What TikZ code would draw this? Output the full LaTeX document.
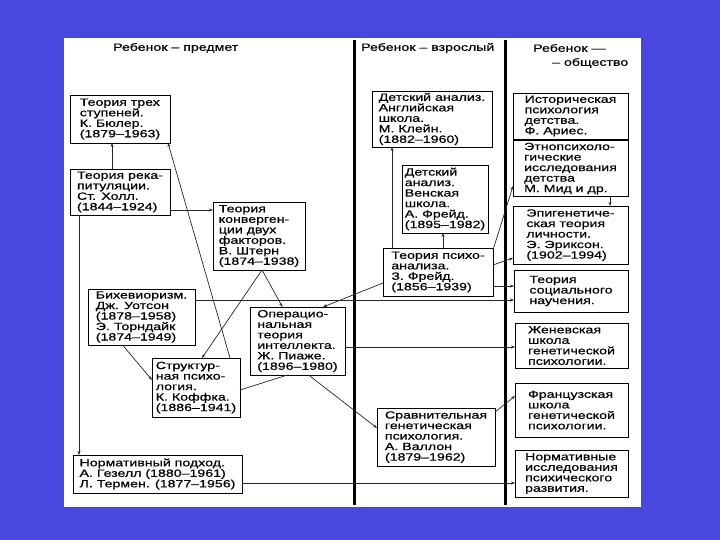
\documentclass[tikz,border=0pt]{standalone}
\usepackage{fontspec}
\usetikzlibrary{arrows.meta}
\newfontfamily\dfont{Liberation Sans}[FakeStretch=1.35,FakeBold=0.6]
\definecolor{bgblue}{RGB}{72,72,224}
\newcommand\mybox[6]{\node[box,minimum width={(#4-#2)*1pt},minimum height={(#5-#3)*1pt}] (#1) at ({(#2+#4)/2},{(#3+#5)/2}) {#6};}
\tikzset{
  box/.style={draw=black,line width=0.9pt,inner sep=2pt,outer sep=0pt,align=left,
    font=\dfont\fontsize{10.5}{10.5}\selectfont},
  head/.style={inner sep=0pt,anchor=west,align=left,font=\dfont\fontsize{10.5}{12}\selectfont},
  conn/.style={line width=0.7pt,draw=black!85},
  arr/.style={conn,-{Stealth[length=4pt,width=3pt]}},
  divider/.style={line width=3pt,draw=black}
}
\begin{document}
\begin{tikzpicture}[x=1pt,y=-1pt]
\useasboundingbox (0,0) rectangle (720,540);
\fill[bgblue] (0,0) rectangle (720,540);
\fill[white] (64,38) rectangle (641,507);
% dividers
\coordinate (d1t) at (354,40); \coordinate (d1b) at (354,505);
\coordinate (d2t) at (505,40); \coordinate (d2b) at (505,505);
\draw[divider] (d1t) -- (d1b);
\draw[divider] (d2t) -- (d2b);
% headers
\node[head] (h1) at (113,48) {Ребенок – предмет};
\node[head] (h2) at (361,48) {Ребенок – взрослый};
\node[head] (h3) at (533,48) {Ребенок —};
\node[head] (h4) at (552,63) {– общество};
% left column
\mybox{bueler}{70}{95}{170}{143}{Теория трех\\ступеней.\\К. Бюлер.\\(1879–1963)}
\mybox{hall}{70}{169}{170}{215}{Теория река-\\питуляции.\\Ст. Холл.\\(1844–1924)}
\mybox{stern}{213}{202}{305}{270}{Теория\\конверген-\\ции двух\\факторов.\\В. Штерн\\(1874–1938)}
\mybox{behav}{88}{289}{195}{345}{Бихевиоризм.\\Дж. Уотсон\\(1878–1958)\\Э. Торндайк\\(1874–1949)}
\mybox{piaget}{250}{307}{345}{375}{Операцио-\\нальная\\теория\\интеллекта.\\Ж. Пиаже.\\(1896–1980)}
\mybox{koffka}{152}{358}{240}{417}{Структур-\\ная психо-\\логия.\\К. Коффка.\\(1886–1941)}
\mybox{gesell}{73}{455}{242}{493}{Нормативный подход.\\А. Гезелл (1880–1961)\\Л. Термен. (1877–1956)}
% middle column
\mybox{klein}{372}{93}{492}{145}{Детский анализ.\\Английская\\школа.\\М. Клейн.\\(1882–1960)}
\mybox{afreud}{402}{165}{488}{233}{Детский\\анализ.\\Венская\\школа.\\А. Фрейд.\\(1895–1982)}
\mybox{zfreud}{383}{248}{493}{296}{Теория психо-\\анализа.\\З. Фрейд.\\(1856–1939)}
\mybox{wallon}{377}{408}{495}{466}{Сравнительная\\генетическая\\психология.\\А. Валлон\\(1879–1962)}
% right column
\mybox{aries}{513}{93}{628}{139}{Историческая\\психология\\детства.\\Ф. Ариес.}
\mybox{mead}{513}{145}{628}{192}{Этнопсихоло-\\гические\\исследования\\детства\\М. Мид и др.}
\mybox{erikson}{513}{206}{628}{264}{Эпигенетиче-\\ская теория\\личности.\\Э. Эриксон.\\(1902–1994)}
\mybox{social}{514}{270}{628}{312}{Теория\\социального\\научения.}
\mybox{geneva}{515}{323}{628}{368}{Женевская\\школа\\генетической\\психологии.}
\mybox{french}{515}{383}{628}{437}{Французская\\школа\\генетической\\психологии.}
\mybox{normres}{515}{450}{628}{497}{Нормативные\\исследования\\психического\\развития.}
% connectors
\draw[arr] ([xshift=-8pt]hall.north) -- ([xshift=-8pt]bueler.south);
\coordinate (h1c) at ([yshift=-18pt]hall.east);
\draw[arr] (h1c) -- (h1c -| stern.west);
\draw[arr] ([xshift=-10pt]koffka.north east) -- ([xshift=-2pt]bueler.south east);
\draw[arr] ([xshift=3pt]stern.south) -- ([xshift=-15pt]piaget.north);
\draw[arr] ([xshift=3pt]stern.south) -- ([xshift=6pt]koffka.north);
\draw[arr] ([xshift=-19pt]behav.south) -- ([yshift=7.5pt]koffka.west);
\draw[conn] ([yshift=-2.5pt]koffka.east) -- ([xshift=-10pt]piaget.south);
\draw[arr] ([xshift=11pt]piaget.south) -- ([yshift=9pt]wallon.west);
\draw[arr] ([yshift=-11pt]zfreud.west) -- ([xshift=-22pt]piaget.north east);
\coordinate (b1c) at ([yshift=17pt]behav.east);
\draw[arr] (b1c) -- (b1c -| social.west);
\coordinate (z1c) at ([yshift=-14pt]zfreud.east);
\draw[arr] (z1c) -- (z1c -| social.west);
\draw[arr] ([yshift=7pt]zfreud.east) -- ([yshift=-23pt]erikson.west);
\draw[arr] ([yshift=-2pt]zfreud.north east) -- ([yshift=-17.5pt]mead.west);
\coordinate (z2c) at ([xshift=5pt]zfreud.north);
\draw[arr] (z2c) -- (z2c |- afreud.south);
\coordinate (z3c) at ([xshift=9pt]zfreud.north west);
\draw[arr] (z3c) -- (z3c |- klein.south);
\coordinate (m1c) at ([xshift=39.5pt]mead.south);
\draw[arr] (m1c) -- (m1c |- erikson.north);
\coordinate (n1c) at ([xshift=9pt]hall.south west);
\draw[arr] (n1c) -- (n1c |- gesell.north);
\coordinate (g1c) at ([yshift=-9pt]gesell.east);
\draw[arr] (g1c) -- (g1c -| normres.west);
\coordinate (p1c) at ([yshift=-6pt]piaget.east);
\draw[arr] (p1c) -- (p1c -| geneva.west);
\draw[arr] ([yshift=-4pt]wallon.north east) -- ([yshift=14pt]french.west);
\end{tikzpicture}
\end{document}
